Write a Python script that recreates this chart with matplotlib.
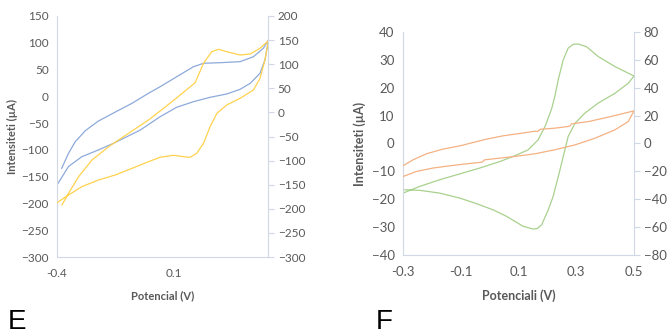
import matplotlib.pyplot as plt

plt.rcParams['font.family'] = ['Lato', 'DejaVu Sans']

# panel E: blue trace on the left axis, yellow trace on the right axis
e_blue_x = [-0.38, -0.351, -0.322, -0.279, -0.223, -0.152, -0.08, -0.01, 0.04, 0.111, 0.182, 0.225, 0.296, 0.381, 0.438, 0.48, 0.502,
            0.487, 0.466, 0.424, 0.381, 0.324, 0.253, 0.182, 0.11, 0.04, -0.045, -0.159, -0.223, -0.294, -0.351, -0.4]
e_blue_y = [-134.4, -106.3, -84.6, -64, -46, -29.5, -13, 5.7, 18, 36.7, 55.3, 61.7, 62.8, 64.7, 74, 89.7, 105.2,
            67.9, 43, 24.3, 13.1, 4.4, -1.8, -10, -20.5, -38, -63, -87.7, -100, -112.7, -131, -165.5]
e_yellow_x = [-0.379, -0.351, -0.308, -0.251, -0.18, -0.095, -0.01, 0.061, 0.11, 0.189, 0.225, 0.26, 0.289, 0.324, 0.381, 0.424, 0.466, 0.502,
              0.487, 0.466, 0.438, 0.381, 0.324, 0.282, 0.253, 0.225, 0.196, 0.168, 0.139, 0.097, 0.04, -0.01, -0.08, -0.152, -0.223, -0.294, -0.351, -0.4]
e_yellow_y = [-192, -167.9, -133.4, -98.8, -71.2, -43.4, -15.8, 11, 30, 61.6, 101.9, 125.9, 130.9, 125.9, 119, 121.2, 133, 148.8,
              108.7, 70.7, 46.5, 29.2, 15.4, -1.9, -29.7, -64.1, -84.9, -93.2, -91.9, -89, -93, -102.3, -116, -129.9, -140.2, -154, -171.4, -187.3]

# panel F: green trace on the left axis, orange trace on the right axis
f_green_x = [-0.3, -0.242, -0.173, -0.103, -0.034, 0.035, 0.087, 0.133, 0.168, 0.192, 0.215, 0.226, 0.238, 0.255, 0.272, 0.29, 0.307, 0.336, 0.376, 0.434, 0.5,
             0.48, 0.434, 0.376, 0.33, 0.296, 0.272, 0.255, 0.238, 0.22, 0.203, 0.18, 0.165, 0.151, 0.116, 0.058, 0.012, -0.045, -0.103, -0.173, -0.242, -0.3]
f_green_y = [-17.8, -15.4, -13, -10.9, -8.8, -6.5, -4.4, -2.3, 1.3, 6.1, 12.5, 17, 23, 30, 34.2, 35.6, 35.7, 34.7, 31.2, 27.6, 24.2,
             21.6, 18, 14.5, 10.9, 7.3, 2.5, -4.7, -11.8, -19, -23.8, -29.2, -30.5, -30.7, -29.7, -26.1, -23.8, -21.6, -19.6, -17.8, -16.8, -16.6]
f_orange_x = [-0.3, -0.265, -0.219, -0.161, -0.103, -0.057, -0.011, 0.047, 0.105, 0.157, 0.166, 0.176, 0.226, 0.272, 0.278, 0.284, 0.342, 0.411, 0.5,
              0.48, 0.434, 0.365, 0.296, 0.226, 0.157, 0.087, 0.035, -0.017, -0.026, -0.08, -0.138, -0.196, -0.254, -0.3]
f_orange_y = [-16, -11.7, -7.4, -4, -1.7, 0.7, 3.1, 5.5, 7.2, 8.8, 8.6, 10.2, 11, 12.2, 12.6, 14.1, 15.7, 18.9, 23.4,
              15.7, 9.8, 3.8, -1, -4.5, -7.4, -9.3, -10.5, -11.7, -13.4, -14.6, -16, -17.6, -20.1, -23.7]

tick_color = '#595959'
spine_color = '#d0d7e5'


def style(ax, ax2):
    for a in (ax, ax2):
        for s in a.spines.values():
            s.set_color(spine_color)
        a.spines['top'].set_visible(False)
        a.tick_params(labelsize=8.5, colors=tick_color)
    ax.spines['right'].set_visible(False)
    ax2.spines['left'].set_visible(False)
    ax2.spines['bottom'].set_visible(False)
    ax.tick_params(axis='y', length=0, pad=6)
    ax.tick_params(axis='x', length=0, pad=8)
    ax2.tick_params(axis='y', length=4, color=spine_color, pad=3)


fig = plt.figure(figsize=(6.67, 3.36), dpi=100)

# E
axE = fig.add_axes([0.0855, 0.2351, 0.3163, 0.7173])
axE2 = axE.twinx()
axE.plot(e_blue_x, e_blue_y, color='#8eaadb', lw=0.9, solid_joinstyle='round')
axE2.plot(e_yellow_x, e_yellow_y, color='#ffd24d', lw=0.9, solid_joinstyle='round')
axE.set_xlim(-0.4, 0.5)
axE.set_xticks([-0.4, 0.1])
axE.set_xticklabels(['-0.4', '0.1'])
axE.set_ylim(-300, 150)
axE.set_yticks(range(-300, 151, 50))
axE2.set_ylim(-300, 200)
axE2.set_yticks(range(-300, 201, 50))
style(axE, axE2)
axE.set_xlabel('Potencial (V)', fontsize=8, fontweight='bold', color=tick_color, labelpad=8)
axE.set_ylabel('Intensiteti (µA)', fontsize=8, fontweight='bold', color=tick_color, labelpad=2)

# F
axF = fig.add_axes([0.6042, 0.2411, 0.3463, 0.6637])
axF2 = axF.twinx()
axF.plot(f_green_x, f_green_y, color='#a9d18e', lw=0.9, solid_joinstyle='round')
axF2.plot(f_orange_x, f_orange_y, color='#f4b183', lw=0.9, solid_joinstyle='round')
axF.set_xlim(-0.3, 0.5)
axF.set_xticks([-0.3, -0.1, 0.1, 0.3, 0.5])
axF.set_xticklabels(['-0.3', '-0.1', '0.1', '0.3', '0.5'])
axF.set_ylim(-40, 40)
axF.set_yticks(range(-40, 41, 10))
axF2.set_ylim(-80, 80)
axF2.set_yticks(range(-80, 81, 20))
style(axF, axF2)
axF.tick_params(axis='y', labelsize=9.5)
axF.tick_params(axis='x', labelsize=9.5)
axF2.tick_params(axis='y', labelsize=9.5)
axF.set_xlabel('Potenciali (V)', fontsize=9, fontweight='bold', color=tick_color, labelpad=8)
axF.set_ylabel('Intensiteti (µA)', fontsize=9, fontweight='bold', color=tick_color, labelpad=4)

fig.text(0.012, 0.02, 'E', fontsize=20, family='Liberation Sans')
fig.text(0.563, 0.02, 'F', fontsize=20, family='Liberation Sans')

fig.savefig('out.png', dpi=100)
